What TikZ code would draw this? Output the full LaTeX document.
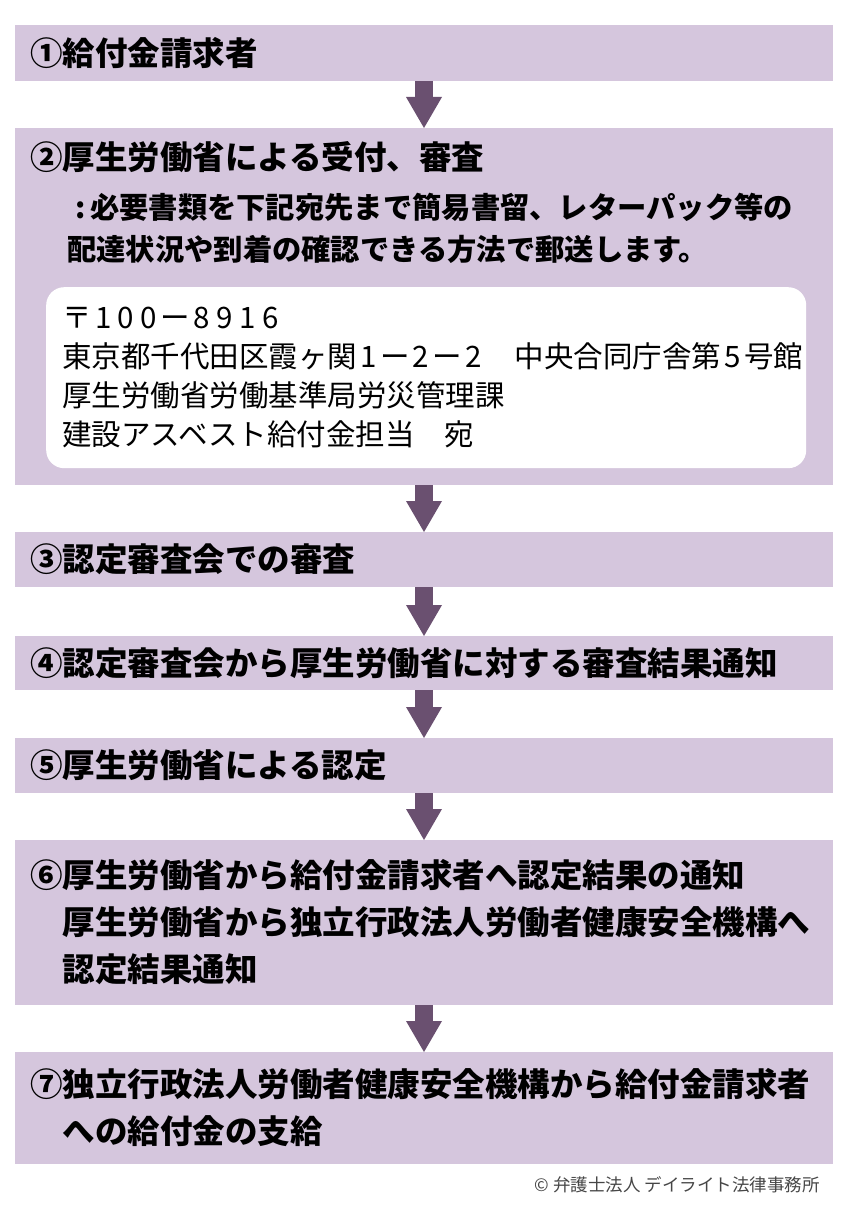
\documentclass[tikz,border=0pt]{standalone}
\usepackage{fontspec}
\setmainfont{Noto Sans CJK JP}
\usetikzlibrary{arrows.meta,positioning}
\definecolor{boxlilac}{HTML}{D5C6DD}
\definecolor{arrowplum}{HTML}{6A5070}
\definecolor{creditgray}{HTML}{464646}
\newcommand{\numbox}[1]{\makebox[23pt]{#1}}
\tikzset{
  stepbox/.style={fill=boxlilac, anchor=north, inner xsep=15pt, inner ysep=0pt, outer sep=0pt,
    text width=788pt, align=left, font=\bfseries\fontsize{32.5}{47}\selectfont},
  flowarrow/.style={arrowplum, line width=18pt, -{Triangle[length=31pt,width=36pt,line width=0pt]}},
}

\begin{document}
\begin{tikzpicture}[x=1pt,y=-1pt]
    \useasboundingbox (0,0) rectangle (850,1212);

    % Step boxes
    \node[stepbox, minimum height=56pt] (claim) at (424,25) {①給付金請求者};
    \node[stepbox, minimum height=357pt] (review) at (424,128) {};
    \node[stepbox, minimum height=55pt] (board) at (424,532) {③認定審査会での審査};
    \node[stepbox, minimum height=54pt] (result) at (424,636) {④認定審査会から厚生労働省に対する審査結果通知};
    \node[stepbox, minimum height=55pt] (approve) at (424,738) {⑤厚生労働省による認定};
    \node[stepbox, minimum height=165pt] (notify) at (424,840) {⑥厚生労働省から給付金請求者へ認定結果の通知\\
        \quad 厚生労働省から独立行政法人労働者健康安全機構へ\\
        \quad 認定結果通知};
    \node[stepbox, minimum height=112pt] (payment) at (424,1052) {⑦独立行政法人労働者健康安全機構から給付金請求者\\
        \quad への給付金の支給};

    % Contents of step 2
    \node[anchor=west, inner sep=0pt, font=\bfseries\fontsize{32.5}{47}\selectfont] (reviewtitle) at (30,157) {②厚生労働省による受付、審査};
    \node[anchor=west, inner sep=0pt, align=left, font=\bfseries\fontsize{29.3}{42}\selectfont] (reviewnote) at (67,228)
        {\makebox[23pt][r]{:\hspace*{4pt}}必要書類を下記宛先まで簡易書留、レターパック等の\\
         配達状況や到着の確認できる方法で郵送します。};
    \node[fill=white, rounded corners=18pt, anchor=north west, minimum height=181pt, inner xsep=16pt, inner ysep=0pt,
        text width=728pt, align=left, font=\fontsize{29.5}{39}\selectfont] (address) at (46,287)
        {〒\numbox{1}\numbox{0}\numbox{0}ー\numbox{8}\numbox{9}\numbox{1}\numbox{6}\\
         東京都千代田区霞ヶ関\numbox{1}ー\numbox{2}ー\numbox{2}　中央合同庁舎第\numbox{5}号館\\
         厚生労働省労働基準局労災管理課\\
         建設アスベスト給付金担当　宛};

    % Arrows
    \draw[flowarrow] (claim) -- (review);
    \draw[flowarrow] (review) -- (board);
    \draw[flowarrow] (board) -- (result);
    \draw[flowarrow] (result) -- (approve);
    \draw[flowarrow] (approve) -- (notify);
    \draw[flowarrow] (notify) -- (payment);

    % Credit
    \node[anchor=east, inner sep=0pt, text=creditgray, font=\fontsize{17.5}{20}\selectfont] (credit) at (820,1185) {© 弁護士法人 デイライト法律事務所};
\end{tikzpicture}
\end{document}
